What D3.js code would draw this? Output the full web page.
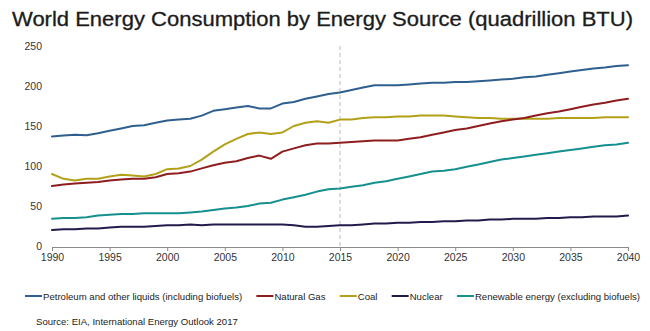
<!DOCTYPE html>
<html>
<head>
<meta charset="utf-8">
<script src="https://cdn.jsdelivr.net/npm/d3@7"></script>
<style>
  body { margin: 0; background: #fff; }
  svg { display: block; font-family: "Liberation Sans", Arial, sans-serif; }
</style>
</head>
<body>
<div id="chart"></div>
<script>
// data (quadrillion BTU)
const years = d3.range(1990, 2041);
const petroleum = [137, 138, 139, 138.5, 141, 144, 147, 150, 151, 154, 157, 158, 159, 163, 169, 171, 173, 175, 172, 172,
  178, 180, 184, 187, 190, 192, 195, 198, 201, 201, 201, 202, 203, 204, 204, 205, 205, 206, 207, 208,
  209, 211, 212, 214, 216, 218, 220, 222, 223, 225, 226];
const naturalGas = [75, 77, 78, 79, 80, 82, 83, 84, 84, 86, 90, 91, 93, 97, 101, 104, 106, 110, 113, 109,
  118, 122, 126, 128, 128, 129, 130, 131, 132, 132, 132, 134, 136, 139, 142, 145, 147, 150, 153, 156,
  158, 160, 163, 166, 168, 171, 174, 177, 179, 182, 184];
const coal = [90, 84, 82, 84, 84, 87, 89, 88, 87, 90, 96, 97, 100, 108, 118, 127, 134, 140, 142, 140,
  142, 150, 154, 156, 154, 158, 158, 160, 161, 161, 162, 162, 163, 163, 163, 162, 161, 160, 160, 159,
  159, 159, 159, 159, 160, 160, 160, 160, 161, 161, 161];
const nuclear = [20, 21, 21, 22, 22, 23, 24, 24, 24, 25, 26, 26, 27, 26, 27, 27, 27, 27, 27, 27,
  27, 26, 24, 24, 25, 26, 26, 27, 28, 28, 29, 29, 30, 30, 31, 31, 32, 32, 33, 33,
  34, 34, 34, 35, 35, 36, 36, 37, 37, 37, 38];
const renewable = [34, 35, 35, 36, 38, 39, 40, 40, 41, 41, 41, 41, 42, 43, 45, 47, 48, 50, 53, 54,
  58, 61, 64, 68, 71, 72, 74, 76, 79, 81, 84, 87, 90, 93, 94, 96, 99, 102, 105, 108,
  110, 112, 114, 116, 118, 120, 122, 124, 126, 127, 129];

const seriesNames = ['Petroleum and other liquids (including biofuels)', 'Natural Gas', 'Coal', 'Nuclear',
  'Renewable energy (excluding biofuels)'];
const seriesColors = ['#2f5f8e', '#8e1d1f', '#b3a019', '#211c4c', '#16908e'];
const xTicks = d3.range(1990, 2041, 5);
const yTicks = [0, 50, 100, 150, 200, 250];
const dividerYear = 2015;
const titleText = 'World Energy Consumption by Energy Source (quadrillion BTU)';
const sourceText = 'Source: EIA, International Energy Outlook 2017';

const width = 650, height = 331;
const margin = { top: 46, right: 22, bottom: 72, left: 52 };
const narrowFont = '"Liberation Sans Narrow", "Liberation Sans", Arial, sans-serif';

const svg = d3.select('#chart').append('svg')
  .attr('width', width)
  .attr('height', height);

const xScale = d3.scaleLinear().domain([1990, 2040]).range([margin.left, width - margin.right]);
const yScale = d3.scaleLinear().domain([0, 250]).range([height - margin.bottom - 13, margin.top]);
const y0 = yScale(0) + 1;

// title
svg.append('text')
  .attr('x', 12)
  .attr('y', 26)
  .attr('font-size', 20)
  .attr('fill', '#1b1b1b')
  .attr('stroke', '#1b1b1b')
  .attr('stroke-width', 0.3)
  .attr('textLength', 621)
  .attr('lengthAdjust', 'spacingAndGlyphs')
  .text(titleText);

// y axis, labels only
const yAxis = svg.append('g')
  .attr('transform', `translate(${margin.left},0)`)
  .call(d3.axisLeft(yScale).tickValues(yTicks).tickSize(0).tickPadding(10));
yAxis.select('.domain').remove();
yAxis.selectAll('text').attr('font-size', 10.5).attr('fill', '#333').attr('font-family', null);

// x axis
const xAxis = svg.append('g')
  .attr('transform', `translate(0,${y0})`)
  .call(d3.axisBottom(xScale).tickValues(xTicks).tickFormat(d3.format('d')).tickSize(4).tickSizeOuter(4).tickPadding(3));
xAxis.select('.domain').attr('stroke', '#8a8a8a');
xAxis.selectAll('line').attr('stroke', '#8a8a8a');
xAxis.selectAll('text').attr('font-size', 10.5).attr('fill', '#333').attr('font-family', null);

// dashed divider at 2015
svg.append('line')
  .attr('x1', xScale(dividerYear)).attr('x2', xScale(dividerYear))
  .attr('y1', margin.top).attr('y2', y0)
  .attr('stroke', '#bdbdbd')
  .attr('stroke-width', 1)
  .attr('stroke-dasharray', '4,3');

// lines
const allSeries = [petroleum, naturalGas, coal, nuclear, renewable];
const line = d3.line()
  .x((d, i) => xScale(years[i]))
  .y(d => yScale(d));

[4, 3, 2, 1, 0].forEach(k => {
  svg.append('path')
    .datum(allSeries[k])
    .attr('fill', 'none')
    .attr('stroke', seriesColors[k])
    .attr('stroke-width', 2)
    .attr('stroke-linejoin', 'round')
    .attr('stroke-linecap', 'round')
    .attr('d', line);
});

// legend: lay items out in a row from x=25 to x=640
const legendY = 296;
const legendLeft = 25, legendRight = 640, swatch = 17;
let legendFont = 10.5;
const legend = svg.append('g');
const items = seriesNames.map((name, i) => {
  const g = legend.append('g');
  g.append('line')
    .attr('x1', 0).attr('x2', swatch)
    .attr('y1', legendY).attr('y2', legendY)
    .attr('stroke', seriesColors[i])
    .attr('stroke-width', 2);
  const t = g.append('text')
    .attr('x', swatch + 1)
    .attr('y', legendY + 3.5)
    .attr('font-family', narrowFont)
    .attr('font-size', legendFont)
    .attr('fill', '#222')
    .text(name);
  return { g, t };
});
let widths = items.map(d => d.t.node().getComputedTextLength());
let used = d3.sum(widths) + items.length * (swatch + 1);
if (legendRight - legendLeft - used < 4 * 14) {
  const scale = (legendRight - legendLeft - 4 * 14 - items.length * (swatch + 1)) / d3.sum(widths);
  legendFont = legendFont * scale;
  items.forEach(d => d.t.attr('font-size', legendFont));
  widths = items.map(d => d.t.node().getComputedTextLength());
  used = d3.sum(widths) + items.length * (swatch + 1);
}
const gap = (legendRight - legendLeft - used) / 4;
let cx = legendLeft;
items.forEach((d, i) => {
  d.g.attr('transform', `translate(${cx},0)`);
  cx += swatch + 1 + widths[i] + gap;
});

// source note
svg.append('text')
  .attr('x', 36)
  .attr('y', 325)
  .attr('font-family', narrowFont)
  .attr('font-size', legendFont)
  .attr('fill', '#222')
  .text(sourceText);
</script>
</body>
</html>
